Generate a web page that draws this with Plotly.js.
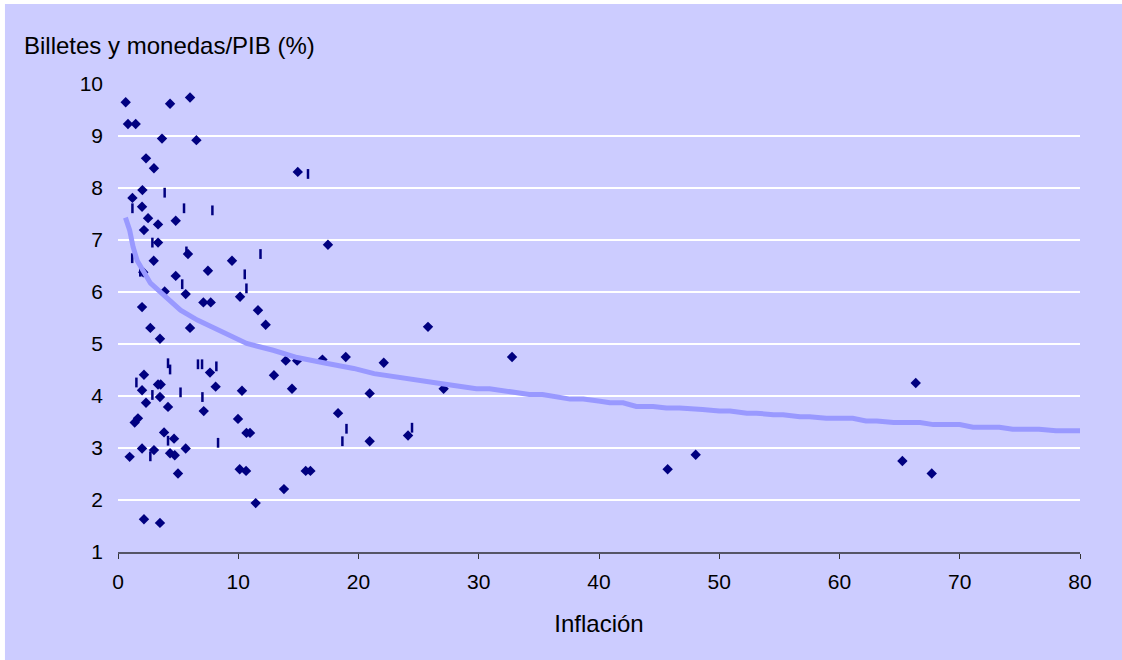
<!DOCTYPE html>
<html>
<head>
<meta charset="utf-8">
<script src="https://cdn.plot.ly/plotly-3.0.1.min.js"></script>
<style>
  html, body { margin: 0; padding: 0; background: #ffffff; overflow: hidden; }
  #chart { position: absolute; left: 0; top: 0; width: 1122px; height: 660px; }
</style>
</head>
<body>
<div id="chart"></div>
<script>
// Series 1: diamonds (inflación, billetes y monedas / PIB)
const diamondX = [0.64, 4.33, 5.99, 0.83, 1.47, 3.66, 6.52, 2.33, 2.99, 14.95,
  2.03, 1.20, 2.00, 2.50, 4.80, 3.33, 2.16, 3.33, 17.46, 5.82,
  2.97, 9.48, 7.48, 2.10, 4.80, 3.88, 5.63, 10.15, 7.10, 7.71,
  2.00, 11.64, 12.28, 2.69, 5.99, 25.78, 3.49, 32.77, 18.94, 17.0,
  13.95, 14.9, 22.1, 7.65, 2.16, 12.97, 66.34, 3.33, 3.55, 8.12,
  14.47, 27.08, 2.00, 10.31, 20.93, 3.49, 2.33, 4.16, 7.13, 18.3,
  1.66, 9.98, 1.39, 3.83, 10.68, 10.98, 24.12, 4.66, 20.93, 2.00,
  5.63, 2.99, 4.33, 48.04, 4.72, 0.97, 65.23, 10.12, 45.71, 10.65,
  15.61, 16.0, 4.99, 67.67, 13.8, 11.45, 2.16, 3.49];
const diamondY = [9.65, 9.62, 9.74, 9.23, 9.23, 8.95, 8.92, 8.57, 8.38, 8.31,
  7.96, 7.81, 7.64, 7.42, 7.37, 7.30, 7.19, 6.95, 6.91, 6.73,
  6.60, 6.60, 6.41, 6.38, 6.31, 6.01, 5.96, 5.91, 5.80, 5.80,
  5.71, 5.65, 5.37, 5.31, 5.31, 5.33, 5.10, 4.75, 4.75, 4.70,
  4.68, 4.68, 4.64, 4.45, 4.41, 4.40, 4.25, 4.22, 4.22, 4.18,
  4.14, 4.14, 4.11, 4.10, 4.05, 3.98, 3.87, 3.79, 3.71, 3.67,
  3.57, 3.56, 3.49, 3.30, 3.29, 3.29, 3.24, 3.18, 3.13, 2.99,
  2.99, 2.96, 2.90, 2.87, 2.86, 2.83, 2.75, 2.59, 2.59, 2.56,
  2.56, 2.56, 2.51, 2.51, 2.21, 1.94, 1.63, 1.56];

// Series 2: short vertical bar markers
const barX = [3.88, 1.20, 5.49, 7.85, 15.8, 2.86, 5.69, 11.85, 1.18, 1.85,
  10.54, 5.34, 10.68, 4.16, 4.33, 6.65, 6.99, 8.18, 1.53, 2.86,
  5.20, 7.02, 4.16, 2.69, 8.32, 19.0, 18.66, 24.45];
const barY = [7.91, 7.61, 7.61, 7.57, 8.27, 6.95, 6.78, 6.73, 6.65, 6.39,
  6.34, 6.15, 6.07, 4.63, 4.51, 4.61, 4.61, 4.57, 4.26, 4.02,
  4.07, 3.98, 3.14, 2.84, 3.10, 3.37, 3.13, 3.39];

// Trend line
const trendX = [0.62, 0.97, 1.25, 1.6, 2.7, 3.9, 5.2, 6.6, 8.0, 10.7, 12.9, 14.9, 17.3, 19.6, 21.3, 23.4,
  26.8, 29.8, 30.9, 34.2, 35.3, 37.6, 38.7, 40.1, 40.9, 42.0, 43.1, 44.5, 45.6, 46.7, 47.8, 48.6,
  50.0, 50.9, 52.3, 53.1, 54.5, 55.3, 56.7, 57.5, 58.9, 61.1, 62.2, 63.1, 64.5, 66.7, 67.8, 70.0,
  71.1, 73.3, 74.4, 76.6, 78.0, 80];
const trendY = [7.43, 7.19, 6.87, 6.60, 6.17, 5.91, 5.65, 5.46, 5.31, 5.01, 4.88, 4.74, 4.63, 4.53, 4.43, 4.35,
  4.24, 4.14, 4.14, 4.03, 4.03, 3.94, 3.94, 3.90, 3.87, 3.87, 3.80, 3.80, 3.77, 3.77, 3.74, 3.74,
  3.71, 3.71, 3.67, 3.67, 3.64, 3.64, 3.60, 3.60, 3.57, 3.57, 3.52, 3.52, 3.49, 3.49, 3.45, 3.45,
  3.40, 3.40, 3.36, 3.36, 3.33, 3.33];

const xTicks = [0, 10, 20, 30, 40, 50, 60, 70, 80];
const yTicks = [1, 2, 3, 4, 5, 6, 7, 8, 9, 10];

const yTitle = 'Billetes y monedas/PIB (%)';
const xTitle = 'Inflación';

const FONT = 'Arial, "Liberation Sans", sans-serif';
const NAVY = '#000080';
const LAVENDER = '#CCCCFF';

const traces = [
  {
    type: 'scatter', mode: 'markers', x: diamondX, y: diamondY,
    marker: { symbol: 'diamond', size: 8, color: NAVY, line: { width: 0 } },
    hoverinfo: 'x+y', showlegend: false
  },
  {
    type: 'scatter', mode: 'markers', x: barX, y: barY,
    marker: { symbol: 'line-ns-open', size: 7, color: NAVY, line: { width: 2.5, color: NAVY } },
    hoverinfo: 'x+y', showlegend: false
  },
  {
    type: 'scatter', mode: 'lines', x: trendX, y: trendY,
    line: { color: '#9999FF', width: 5 },
    hoverinfo: 'skip', showlegend: false
  }
];

const layout = {
  width: 1122, height: 660,
  margin: { l: 118, r: 42, t: 84, b: 108, pad: 0 },
  paper_bgcolor: '#FFFFFF',
  plot_bgcolor: 'rgba(0,0,0,0)',
  font: { family: FONT, size: 21, color: '#000000' },
  showlegend: false,
  shapes: [
    {
      type: 'rect', xref: 'paper', yref: 'paper', layer: 'below',
      x0: -0.1175, x1: 1.05, y0: -0.24, y1: 1.171,
      fillcolor: LAVENDER, line: { width: 0 }
    }
  ],
  xaxis: {
    range: [0, 80], tickvals: xTicks, ticktext: xTicks.map(String),
    showgrid: false, zeroline: false,
    showline: true, linecolor: '#555566', linewidth: 1.5,
    ticks: 'outside', ticklen: 5, tickwidth: 1, tickcolor: '#333333',
    tickfont: { family: FONT, size: 21, color: '#000000' },
    ticklabelstandoff: 5,
    title: { text: xTitle, font: { family: FONT, size: 24, color: '#000000' }, standoff: 23 }
  },
  yaxis: {
    range: [1, 10], tickvals: yTicks, ticktext: yTicks.map(String),
    showgrid: true, gridcolor: '#FFFFFF', gridwidth: 1.5,
    zeroline: false, showline: false, ticks: '',
    tickfont: { family: FONT, size: 21, color: '#000000' },
    ticklabelstandoff: 14
  },
  annotations: [
    {
      text: yTitle, xref: 'paper', yref: 'paper',
      x: -0.1, y: 1.083, xanchor: 'left', yanchor: 'middle',
      showarrow: false, font: { family: FONT, size: 24, color: '#000000' }
    }
  ]
};

Plotly.newPlot('chart', traces, layout, { displayModeBar: false, staticPlot: true });
</script>
</body>
</html>
